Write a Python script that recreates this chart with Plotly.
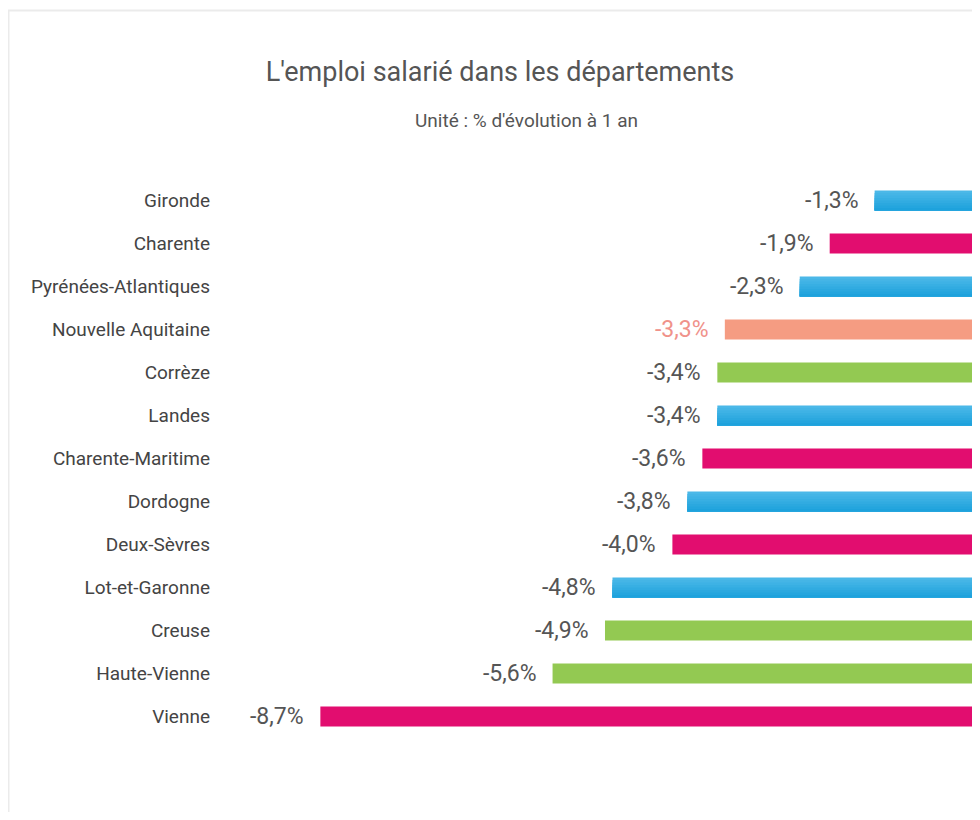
import plotly.graph_objects as go

departements = ["Gironde", "Charente", "Pyrénées-Atlantiques", "Nouvelle Aquitaine",
                "Corrèze", "Landes", "Charente-Maritime", "Dordogne", "Deux-Sèvres",
                "Lot-et-Garonne", "Creuse", "Haute-Vienne", "Vienne"]
evolution = [-1.3, -1.9, -2.3, -3.3, -3.4, -3.4, -3.6, -3.8, -4.0, -4.8, -4.9, -5.6, -8.7]
groupes = ["bleu", "rose", "bleu", "region", "vert", "bleu", "rose", "bleu", "rose",
           "bleu", "vert", "vert", "rose"]

palette = {"bleu": "#4BB8E8", "rose": "#E20D6F", "vert": "#93C952", "region": "#F59C82"}
text_colors = {"bleu": "#555555", "rose": "#555555", "vert": "#555555", "region": "#F0928A"}
# blue bars get a vertical gradient, light at top to darker at bottom
blue_top = (0x4B, 0xB8, 0xE8)
blue_bottom = (0x1E, 0xA2, 0xDC)

W, H = 964, 804
L, R, T, B = 213, 0, 171, 74
plot_w = W - L - R
plot_h = H - T - B
BW = 0.465  # bar thickness in category units

fig = go.Figure()
fig.add_trace(go.Bar(
    y=departements, x=evolution, orientation="h",
    width=BW, offset=-BW / 2,
    marker=dict(color=[palette[g] for g in groupes], line=dict(width=0)),
    hoverinfo="skip",
))

blue_y = [d for d, g in zip(departements, groupes) if g == "bleu"]
blue_x = [v for v, g in zip(evolution, groupes) if g == "bleu"]
N = 8
for k in range(1, N):
    t = k / (N - 1)
    c = tuple(round(a + (b - a) * t) for a, b in zip(blue_top, blue_bottom))
    fig.add_trace(go.Bar(
        y=blue_y, x=blue_x, orientation="h",
        width=BW - k * BW / N, offset=-BW / 2 + k * BW / N,
        marker=dict(color="rgb(%d,%d,%d)" % c, line=dict(width=0)),
        hoverinfo="skip",
    ))

annotations = []
for d, v, g in zip(departements, evolution, groupes):
    annotations.append(dict(
        x=v, y=d, xref="x", yref="y", xanchor="right", yanchor="middle",
        xshift=-14, showarrow=False,
        text=f"{v:.1f}%".replace(".", ","),
        font=dict(family="Roboto", size=23, color=text_colors[g]),
    ))

annotations.append(dict(
    x=(518 - L) / plot_w, y=(H - B - 112) / plot_h, xref="paper", yref="paper",
    xanchor="center", yanchor="middle",
    showarrow=False, text="Unité : % d'évolution à 1 an",
    font=dict(family="Roboto", size=19, color="#555555"),
))

fig.update_layout(
    width=W, height=H,
    margin=dict(l=L, r=R, t=T, b=B, pad=0),
    paper_bgcolor="white", plot_bgcolor="white",
    showlegend=False,
    barmode="overlay",
    title=dict(text="L'emploi salarié dans les départements",
               x=492 / W, xanchor="center", y=1 - 64 / H, yanchor="middle",
               xref="container", yref="container",
               font=dict(family="Roboto", size=27, color="#555555")),
    xaxis=dict(range=[-plot_w / 74.9, 0], showgrid=False, zeroline=False, showticklabels=False,
               showline=False, ticks="", fixedrange=True),
    yaxis=dict(autorange="reversed", showgrid=False, zeroline=False, showline=False,
               ticks="", ticklabelstandoff=10,
               tickfont=dict(family="Roboto", size=19, color="#444444")),
    annotations=annotations,
    shapes=[dict(type="rect", xref="paper", yref="paper",
                 x0=(0.5 - L) / plot_w, x1=1.2, y0=-0.3, y1=(H - B - 2.5) / plot_h,
                 line=dict(color="#EBEBEB", width=2), fillcolor="rgba(0,0,0,0)",
                 layer="below")],
    font=dict(family="Roboto"),
)

fig.write_html("out.html")
